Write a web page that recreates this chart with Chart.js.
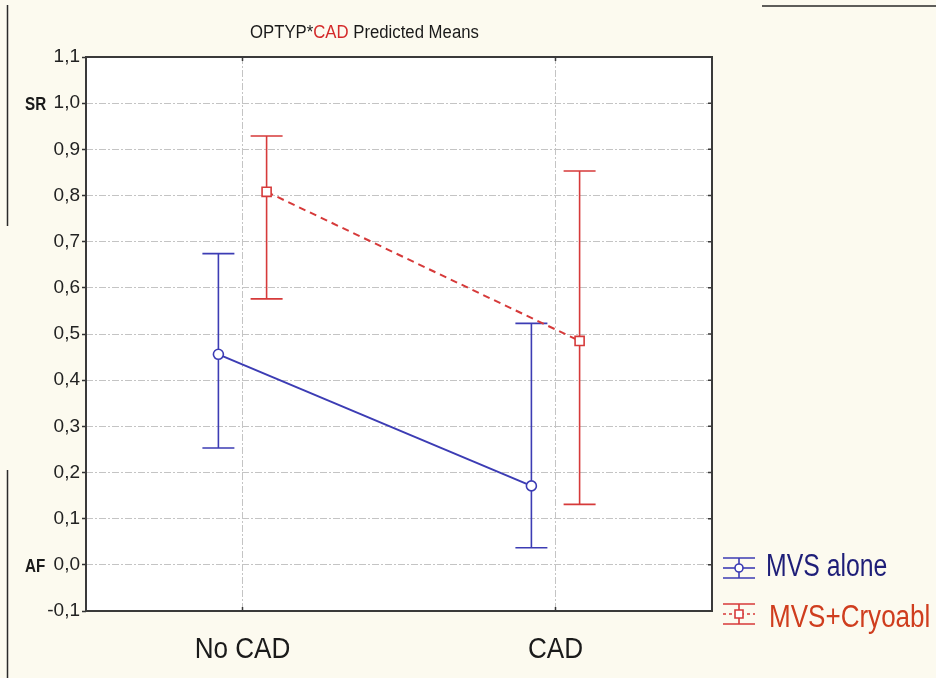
<!DOCTYPE html>
<html>
<head>
<meta charset="utf-8">
<script src="https://cdn.jsdelivr.net/npm/chart.js@4.4.1/dist/chart.umd.min.js"></script>
<style>
  html, body { margin: 0; padding: 0; background: #fcfaef; }
  #chart { display: block; }
</style>
</head>
<body>
<canvas id="chart" width="936" height="678"></canvas>
<script>
const categories = ["No CAD", "CAD"];
const seriesNames = ["MVS alone", "MVS+Cryoabl"];

// predicted means with their confidence limits, one entry per category
const aloneMeans = [0.456, 0.171];
const aloneLower = [0.253, 0.037];
const aloneUpper = [0.674, 0.523];
const cryoMeans = [0.808, 0.485];
const cryoLower = [0.576, 0.131];
const cryoUpper = [0.929, 0.853];

const yTickValues = [-0.1, 0, 0.1, 0.2, 0.3, 0.4, 0.5, 0.6, 0.7, 0.8, 0.9, 1.0, 1.1];
const yTickLabels = ["-0,1", "0,0", "0,1", "0,2", "0,3", "0,4", "0,5", "0,6", "0,7", "0,8", "0,9", "1,0", "1,1"];
const yMarks = [
  { value: 1.0, text: "SR" },
  { value: 0, text: "AF" },
];

const BLUE = "#3c3cb4";
const RED = "#d63a3a";
const FONT = "'Liberation Sans', Arial, sans-serif";
const DODGE = 0.077;

const toPoints = (means, lower, upper, shift) =>
  means.map((m, i) => ({ x: i + shift, y: m, low: lower[i], high: upper[i] }));

// text drawn with a horizontal squeeze, like a narrow face
const drawText = (ctx, text, x, y, font, color, scaleX, align = "left") => {
  ctx.save();
  ctx.font = font;
  ctx.fillStyle = color;
  ctx.textAlign = "left";
  ctx.textBaseline = "alphabetic";
  const w = ctx.measureText(text).width * scaleX;
  const left = align === "center" ? x - w / 2 : align === "right" ? x - w : x;
  ctx.translate(left, y);
  ctx.scale(scaleX, 1);
  ctx.fillText(text, 0, 0);
  ctx.restore();
  return w;
};

const plotBackground = {
  id: "plotBackground",
  beforeDraw(chart) {
    const { ctx, chartArea: a } = chart;
    ctx.save();
    ctx.fillStyle = "#ffffff";
    ctx.fillRect(a.left, a.top, a.right - a.left, a.bottom - a.top);
    ctx.restore();
  },
};

const errorBars = {
  id: "errorBars",
  beforeDatasetsDraw(chart) {
    const { ctx, scales: { x, y } } = chart;
    chart.data.datasets.forEach((ds) => {
      ctx.save();
      ctx.strokeStyle = ds.borderColor;
      ctx.lineWidth = 1.6;
      ds.data.forEach((pt) => {
        const px = x.getPixelForValue(pt.x);
        const top = y.getPixelForValue(pt.high);
        const bottom = y.getPixelForValue(pt.low);
        ctx.beginPath();
        ctx.moveTo(px, top);
        ctx.lineTo(px, bottom);
        ctx.moveTo(px - 16, top);
        ctx.lineTo(px + 16, top);
        ctx.moveTo(px - 16, bottom);
        ctx.lineTo(px + 16, bottom);
        ctx.stroke();
      });
      ctx.restore();
    });
  },
};

const frameAndText = {
  id: "frameAndText",
  afterDraw(chart) {
    const { ctx, chartArea: a, scales: { x, y } } = chart;
    ctx.save();

    // frame round the plot with short inner ticks on the right, top and bottom
    ctx.strokeStyle = "#3a3a3a";
    ctx.lineWidth = 2;
    ctx.strokeRect(a.left, a.top, a.right - a.left, a.bottom - a.top);
    ctx.lineWidth = 1.5;
    ctx.beginPath();
    yTickValues.forEach((v) => {
      const py = y.getPixelForValue(v);
      ctx.moveTo(a.right - 4, py);
      ctx.lineTo(a.right, py);
    });
    categories.forEach((_, i) => {
      const px = x.getPixelForValue(i);
      ctx.moveTo(px, a.top);
      ctx.lineTo(px, a.top + 4);
      ctx.moveTo(px, a.bottom);
      ctx.lineTo(px, a.bottom - 4);
    });
    ctx.stroke();

    // page edges
    ctx.strokeStyle = "#2a2a2a";
    ctx.lineWidth = 1.5;
    ctx.beginPath();
    ctx.moveTo(7.5, 5);
    ctx.lineTo(7.5, 226);
    ctx.moveTo(7.5, 470);
    ctx.lineTo(7.5, 678);
    ctx.moveTo(762, 6);
    ctx.lineTo(936, 6);
    ctx.stroke();

    // title, with the factor name in red
    let tx = 250;
    const titleFont = `18px ${FONT}`;
    tx += drawText(ctx, "OPTYP*", tx, 38, titleFont, "#1a1a1a", 0.93);
    tx += drawText(ctx, "CAD", tx, 38, titleFont, "#d42a2a", 0.93);
    drawText(ctx, " Predicted Means", tx, 38, titleFont, "#1a1a1a", 0.93);

    // SR / AF markers beside the value axis
    yMarks.forEach(({ value, text }) => {
      drawText(ctx, text, 25, y.getPixelForValue(value) + 7, `bold 19px ${FONT}`, "#1a1a1a", 0.8);
    });

    // category labels under the axis
    categories.forEach((c, i) => {
      drawText(ctx, c, x.getPixelForValue(i), 658, `30px ${FONT}`, "#1a1a1a", 0.87, "center");
    });

    // legend with error-bar symbols
    const legend = [
      { name: seriesNames[0], color: BLUE, text: "#1e1e78", dash: [], square: false, cy: 568, base: 576, tx: 766, sx: 0.8 },
      { name: seriesNames[1], color: RED, text: "#cf3d1e", dash: [3, 3], square: true, cy: 614, base: 627, tx: 769, sx: 0.84 },
    ];
    legend.forEach((item) => {
      const sx = 723;
      const ex = 755;
      const cx = (sx + ex) / 2;
      ctx.strokeStyle = item.color;
      ctx.lineWidth = 1.6;
      ctx.setLineDash([]);
      ctx.beginPath();
      ctx.moveTo(sx, item.cy - 10);
      ctx.lineTo(ex, item.cy - 10);
      ctx.moveTo(sx, item.cy + 10);
      ctx.lineTo(ex, item.cy + 10);
      ctx.moveTo(cx, item.cy - 10);
      ctx.lineTo(cx, item.cy + 10);
      ctx.stroke();
      ctx.setLineDash(item.dash);
      ctx.beginPath();
      ctx.moveTo(sx, item.cy);
      ctx.lineTo(ex, item.cy);
      ctx.stroke();
      ctx.setLineDash([]);
      ctx.fillStyle = "#ffffff";
      ctx.beginPath();
      if (item.square) {
        ctx.rect(cx - 4, item.cy - 4, 8, 8);
      } else {
        ctx.arc(cx, item.cy, 4, 0, Math.PI * 2);
      }
      ctx.fill();
      ctx.stroke();
      drawText(ctx, item.name, item.tx, item.base, `31px ${FONT}`, item.text, item.sx);
    });

    ctx.restore();
  },
};

const gridDash = [7, 2, 2, 2];

new Chart(document.getElementById("chart"), {
  type: "scatter",
  data: {
    datasets: [
      {
        label: seriesNames[0],
        data: toPoints(aloneMeans, aloneLower, aloneUpper, -DODGE),
        showLine: true,
        borderColor: BLUE,
        borderWidth: 2,
        pointStyle: "circle",
        pointRadius: 5,
        pointBorderWidth: 1.6,
        pointBackgroundColor: "#ffffff",
        pointBorderColor: BLUE,
      },
      {
        label: seriesNames[1],
        data: toPoints(cryoMeans, cryoLower, cryoUpper, DODGE),
        showLine: true,
        borderColor: RED,
        borderWidth: 2,
        borderDash: [7, 5],
        pointStyle: "rect",
        pointRadius: 6.4,
        pointBorderWidth: 1.6,
        pointBackgroundColor: "#ffffff",
        pointBorderColor: RED,
      },
    ],
  },
  options: {
    responsive: false,
    animation: false,
    devicePixelRatio: 1,
    layout: { padding: { top: 57, right: 224, left: 0, bottom: 0 } },
    plugins: {
      legend: { display: false },
      tooltip: { enabled: false },
      title: { display: false },
    },
    scales: {
      x: {
        type: "linear",
        min: -0.5,
        max: 1.5,
        afterBuildTicks: (scale) => {
          scale.ticks = categories.map((_, i) => ({ value: i }));
        },
        afterFit: (scale) => {
          scale.height = 67;
        },
        ticks: { display: false },
        grid: { color: "#c4c4c4", lineWidth: 1, drawTicks: false },
        border: { display: false, dash: gridDash },
      },
      y: {
        min: -0.1,
        max: 1.1,
        afterBuildTicks: (scale) => {
          scale.ticks = yTickValues.map((v) => ({ value: v }));
        },
        afterFit: (scale) => {
          scale.width = 86;
        },
        ticks: {
          callback: (value, index) => yTickLabels[index],
          color: "#222222",
          font: { family: FONT, size: 19 },
          padding: 2,
        },
        grid: { color: "#c4c4c4", lineWidth: 1, tickLength: 4, tickColor: "#333333", tickWidth: 1.5 },
        border: { display: false, dash: gridDash },
      },
    },
  },
  plugins: [plotBackground, errorBars, frameAndText],
});
</script>
</body>
</html>
